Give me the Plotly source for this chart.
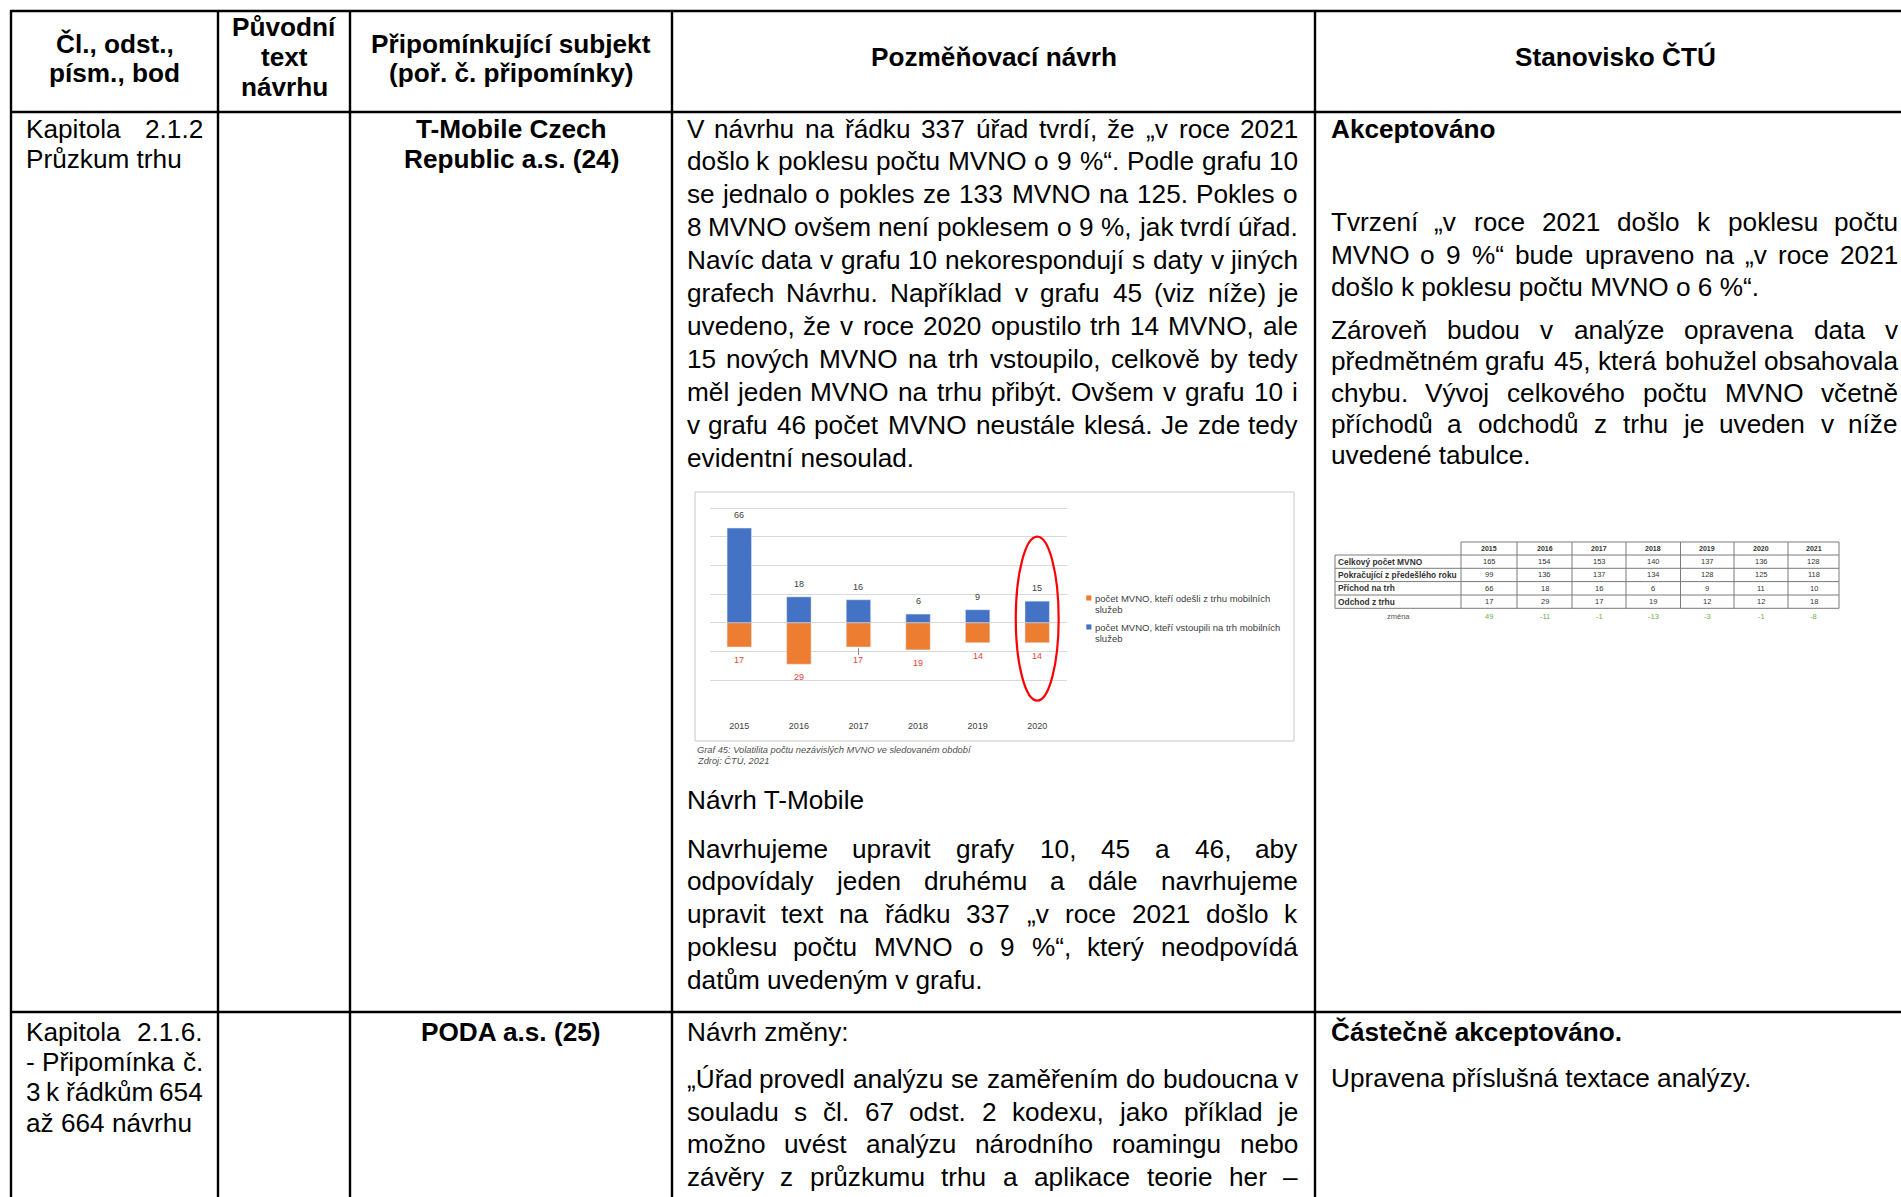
import plotly.graph_objects as go

W, H = 1901, 1197

# ---------------- data: embedded chart (Graf 45) ----------------
YEARS = ["2015", "2016", "2017", "2018", "2019", "2020"]
ENTERED = [66, 18, 16, 6, 9, 15]
LEFT = [17, 29, 17, 19, 14, 14]
NAME_LEFT = ["počet MVNO, kteří odešli z trhu mobilních", "služeb"]
NAME_ENTER = ["počet MVNO, kteří vstoupili na trh mobilních", "služeb"]
GRID_VALS = [-40, -20, 0, 20, 40, 60, 80]
CHART_CAPTION = ["Graf 45: Volatilita počtu nezávislých MVNO ve sledovaném období",
                 "Zdroj: ČTÚ, 2021"]

# ---------------- data: embedded table ----------------
TBL_YEARS = ["2015", "2016", "2017", "2018", "2019", "2020", "2021"]
TBL_ROWS = ["Celkový počet MVNO", "Pokračující z předešlého roku", "Příchod na trh", "Odchod z trhu"]
TBL_TOTAL = [165, 154, 153, 140, 137, 136, 128]
TBL_CONT = [99, 136, 137, 134, 128, 125, 118]
TBL_IN = [66, 18, 16, 6, 9, 11, 10]
TBL_OUT = [17, 29, 17, 19, 12, 12, 18]
TBL_CHANGE_LABEL = "změna"
TBL_CHANGE = [49, -11, -1, -13, -3, -1, -8]

# ---------------- document text ----------------
HEADERS = [["Čl., odst.,", "písm., bod"], ["Původní", "text", "návrhu"],
           ["Připomínkující subjekt", "(poř. č. připomínky)"], ["Pozměňovací návrh"], ["Stanovisko ČTÚ"]]
R1_C1 = ["Kapitola  2.1.2", "Průzkum trhu"]
R1_C3 = ["T-Mobile Czech", "Republic a.s. (24)"]
R1_C4_P1 = [
    "V návrhu na řádku 337 úřad tvrdí, že „v roce 2021",
    "došlo k poklesu počtu MVNO o 9 %“. Podle grafu 10",
    "se jednalo o pokles ze 133 MVNO na 125. Pokles o",
    "8 MVNO ovšem není poklesem o 9 %, jak tvrdí úřad.",
    "Navíc data v grafu 10 nekorespondují s daty v jiných",
    "grafech Návrhu. Například v grafu 45 (viz níže) je",
    "uvedeno, že v roce 2020 opustilo trh 14 MVNO, ale",
    "15 nových MVNO na trh vstoupilo, celkově by tedy",
    "měl jeden MVNO na trhu přibýt. Ovšem v grafu 10 i",
    "v grafu 46 počet MVNO neustále klesá. Je zde tedy",
    "evidentní nesoulad.",
]
R1_C4_H2 = "Návrh T-Mobile"
R1_C4_P2 = [
    "Navrhujeme upravit grafy 10, 45 a 46, aby",
    "odpovídaly jeden druhému a dále navrhujeme",
    "upravit text na řádku 337 „v roce 2021 došlo k",
    "poklesu počtu MVNO o 9 %“, který neodpovídá",
    "datům uvedeným v grafu.",
]
R1_C5_H = "Akceptováno"
R1_C5_P1 = [
    "Tvrzení „v roce 2021 došlo k poklesu počtu",
    "MVNO o 9 %“ bude upraveno na „v roce 2021",
    "došlo k poklesu počtu MVNO o 6 %“.",
]
R1_C5_P2 = [
    "Zároveň budou v analýze opravena data v",
    "předmětném grafu 45, která bohužel obsahovala",
    "chybu. Vývoj celkového počtu MVNO včetně",
    "příchodů a odchodů z trhu je uveden v níže",
    "uvedené tabulce.",
]
R2_C1 = ["Kapitola  2.1.6.", "- Připomínka č.", "3 k řádkům 654", "až 664 návrhu"]
R2_C3 = "PODA a.s. (25)"
R2_C4_H = "Návrh změny:"
R2_C4_P = [
    "„Úřad provedl analýzu se zaměřením do budoucna v",
    "souladu s čl. 67 odst. 2 kodexu, jako příklad je",
    "možno uvést analýzu národního roamingu nebo",
    "závěry z průzkumu trhu a aplikace teorie her –",
]
R2_C5_H = "Částečně akceptováno."
R2_C5_P = "Upravena příslušná textace analýzy."

# ---------------- styling ----------------
FONT = "Liberation Sans, Arial, sans-serif"
FS = 26.2
BLUE = "#4472C4"
ORANGE = "#ED7D31"
RED_LBL = "#E8443A"
GRIDC = "#D9D9D9"

# Arial / Liberation Sans advance widths (per 1000 em)
REG = {' ': 278, ',': 278, '.': 278, ':': 278, ';': 278, '(': 333, ')': 333, '-': 333,
       '%': 889, '„': 333, '“': 333, '–': 556, '"': 355}
for c in "0123456789":
    REG[c] = 556
for c, w in zip("aábcčdeéěfghiíjklmnňoópqrřsštuúůvwxyýzž",
                [556, 556, 556, 500, 500, 556, 556, 556, 556, 278, 556, 556, 222, 278, 222, 500, 222,
                 833, 556, 556, 556, 556, 556, 556, 333, 333, 500, 500, 278, 556, 556, 556, 500,
                 722, 500, 500, 500, 500, 500]):
    REG[c] = w
for c, w in zip("ABCČDEFGHIJKLMNOPQRŘSŠTUÚVWXYZŽ",
                [667, 667, 722, 722, 722, 667, 611, 778, 722, 278, 500, 667, 556, 833, 722, 778,
                 667, 778, 722, 722, 667, 667, 611, 722, 722, 667, 944, 667, 667, 611, 611]):
    REG[c] = w


def text_w(s, size=FS):
    return sum(REG.get(ch, 556) for ch in s) / 1000.0 * size


ANN = []


def ann(x, y, text, size=FS, anchor="left", bold=False, italic=False, color="black"):
    t = text
    if bold:
        t = "<b>" + t + "</b>"
    if italic:
        t = "<i>" + t + "</i>"
    ANN.append(dict(x=x, y=y, xref="x", yref="y", text=t, showarrow=False,
                    xanchor=anchor, yanchor="middle", borderpad=0,
                    font=dict(size=size, color=color, family=FONT)))


def put_line(line, y, L, R, justify=True, size=FS):
    words = line.split()
    if not justify or len(words) < 2:
        ann(L, y, line, size=size)
        return
    ws = [text_w(w, size) for w in words]
    gap = (R - L - sum(ws)) / (len(words) - 1)
    x = L
    for i, (w, wd) in enumerate(zip(words, ws)):
        if i == 0:
            ann(L, y, w, size=size, anchor="left")
        elif i == len(words) - 1:
            ann(R, y, w, size=size, anchor="right")
        else:
            ann(x + wd / 2.0, y, w, size=size, anchor="center")
        x += wd + gap


def put_par(lines, y0, step, L, R, last_left=True):
    for k, ln in enumerate(lines):
        just = not (last_left and k == len(lines) - 1)
        put_line(ln, y0 + k * step, L, R, justify=just)


# ---------------- layout geometry ----------------
COLS = [11, 218, 350, 672, 1315]
TOP, HB, R1B = 11, 112, 1012
LS = 32.7
LS1 = 30.3

shapes = []
LINE = dict(color="black", width=2.4)
for yy in (TOP, HB, R1B):
    shapes.append(dict(type="line", xref="x", yref="y", x0=COLS[0] - 1, x1=W + 5, y0=yy, y1=yy, line=LINE))
for xx in COLS:
    shapes.append(dict(type="line", xref="x", yref="y", x0=xx, x1=xx, y0=TOP - 1, y1=H + 5, line=LINE))

# headers
centers = [(COLS[0] + COLS[1]) / 2, (COLS[1] + COLS[2]) / 2, (COLS[2] + COLS[3]) / 2,
           (COLS[3] + COLS[4]) / 2, 1615]
hy = {1: [57], 2: [43.6, 72.7], 3: [26.7, 57, 87.3]}
for cx, hl in zip(centers, HEADERS):
    for t, yy in zip(hl, hy[len(hl)]):
        ann(cx, yy, t, anchor="center", bold=True)

# row 1
put_par(R1_C1, 128.5, LS1, 25, 204)
for k, t in enumerate(R1_C3):
    ann(centers[2], 128.5 + k * LS1, t, anchor="center", bold=True)
C4L, C4R = 686, 1298.5
put_par(R1_C4_P1, 128.5, 32.9, C4L, C4R)
ann(C4L, 800, R1_C4_H2)
put_par(R1_C4_P2, 848.7, LS, C4L, C4R)
C5L, C5R = 1330, 1899
ann(C5L, 128.5, R1_C5_H, bold=True)
put_par(R1_C5_P1, 222, LS, C5L, C5R)
put_par(R1_C5_P2, 330, 31.3, C5L, C5R)

# row 2
put_par(R2_C1, 1031.8, LS1, 25, 204)
ann(centers[2], 1031.8, R2_C3, anchor="center", bold=True)
ann(C4L, 1031.8, R2_C4_H)
put_par(R2_C4_P, 1079, LS, C4L, C4R, last_left=False)
ann(C5L, 1031.8, R2_C5_H, bold=True)
ann(C5L, 1077.8, R2_C5_P)

# ---------------- embedded chart ----------------
shapes.append(dict(type="rect", xref="x", yref="y", x0=695, x1=1294, y0=492, y1=741,
                   line=dict(color="#C8C8C8", width=1), layer="below"))
# plot area: gridline 80 at y=508px, -40 at y=680px
px_per_unit = (680 - 508) / 120.0
ytop_px, ybot_px = 500, 719
yr_top = 80 + (508 - ytop_px) / px_per_unit
yr_bot = -40 - (ybot_px - 680) / px_per_unit

fig = go.Figure()
fig.add_trace(go.Scatter(x=[0], y=[0], mode="markers", marker=dict(opacity=0), hoverinfo="skip",
                         showlegend=False, xaxis="x", yaxis="y"))
fig.add_trace(go.Bar(x=YEARS, y=[-v for v in LEFT], name=" ".join(NAME_LEFT), marker_color=ORANGE,
                     width=0.41, xaxis="x2", yaxis="y2", showlegend=False))
fig.add_trace(go.Bar(x=YEARS, y=ENTERED, name=" ".join(NAME_ENTER), marker_color=BLUE,
                     width=0.41, xaxis="x2", yaxis="y2", showlegend=False))

# value labels (on the chart's own axes; category index positions)
for i, v in enumerate(ENTERED):
    ANN.append(dict(x=i, y=v, xref="x2", yref="y2", text=str(v), showarrow=False,
                    yanchor="middle", yshift=13, font=dict(size=9, color="#404040", family=FONT)))
for i, v in enumerate(LEFT):
    ANN.append(dict(x=i, y=-v, xref="x2", yref="y2", text=str(v), showarrow=False,
                    yanchor="middle", yshift=-13, font=dict(size=9, color=RED_LBL, family=FONT)))

# small leader tick under the 2017 outflow bar
shapes.append(dict(type="line", xref="x2", yref="y2", x0=2, x1=2, y0=-LEFT[2] - 0.6, y1=-LEFT[2] - 5.5,
                   line=dict(color="#8C8C8C", width=1)))

# red ellipse around 2020
shapes.append(dict(type="circle", xref="x2", yref="y2", x0=4.64, x1=5.36, y0=-54.4, y1=60,
                   line=dict(color="#FF0000", width=2.2)))

# legend (manual, small squares)
for names, col, y0 in ((NAME_LEFT, ORANGE, 598), (NAME_ENTER, BLUE, 627)):
    shapes.append(dict(type="rect", xref="x", yref="y", x0=1086.3, x1=1091.4, y0=y0 - 2.6, y1=y0 + 2.5,
                       fillcolor=col, line=dict(width=0)))
    for k, t in enumerate(names):
        ann(1093.5, y0 + k * 11.5, t, size=9.5, color="#404040")

for k, t in enumerate(CHART_CAPTION):
    ann(695.5, 750 + k * 11, t, size=9.3, italic=True, color="#505050")

# ---------------- embedded table ----------------
XE = [1461, 1517, 1572, 1626, 1680.5, 1734, 1788, 1839]
TL = 1335
YE = [542, 555, 568.3, 581.6, 595, 608.3]
TC = "#7A7A7A"
TLINE = dict(color=TC, width=1)
shapes.append(dict(type="line", xref="x", yref="y", x0=XE[0], x1=XE[-1], y0=YE[0], y1=YE[0], line=TLINE))
for yy in YE[1:]:
    shapes.append(dict(type="line", xref="x", yref="y", x0=TL, x1=XE[-1], y0=yy, y1=yy, line=TLINE))
shapes.append(dict(type="line", xref="x", yref="y", x0=TL, x1=TL, y0=YE[1], y1=YE[-1], line=TLINE))
for xx in XE:
    shapes.append(dict(type="line", xref="x", yref="y", x0=xx, x1=xx, y0=YE[0], y1=YE[-1], line=TLINE))

xc = [(XE[i] + XE[i + 1]) / 2 for i in range(len(TBL_YEARS))]
for x_, yv in zip(xc, TBL_YEARS):
    ann(x_, (YE[0] + YE[1]) / 2, yv, size=7, anchor="center", bold=True, color="#333333")
for r, (lab, vals) in enumerate(zip(TBL_ROWS, [TBL_TOTAL, TBL_CONT, TBL_IN, TBL_OUT])):
    yy = (YE[r + 1] + YE[r + 2]) / 2
    ann(TL + 2, yy, lab, size=8.4, bold=True, color="#333333")
    for x_, v in zip(xc, vals):
        ann(x_, yy, str(v), size=7.5, anchor="center", color="#333333")
ann((TL + XE[0]) / 2, 616, TBL_CHANGE_LABEL, size=7.5, anchor="center", color="#555555")
for x_, v in zip(xc, TBL_CHANGE):
    ann(x_, 616, str(v), size=7.5, anchor="center", color="#6AB04C")

fig.update_layout(
    width=W, height=H, margin=dict(l=0, r=0, t=0, b=0),
    paper_bgcolor="white", plot_bgcolor="rgba(0,0,0,0)",
    font=dict(family=FONT, color="black"),
    barmode="relative", showlegend=False,
    xaxis=dict(range=[0, W], domain=[0, 1], visible=False, fixedrange=True, autorange=False),
    yaxis=dict(range=[H, 0], domain=[0, 1], visible=False, fixedrange=True, autorange=False),
    xaxis2=dict(domain=[709.5 / W, 1067 / W], anchor="y2", type="category", showgrid=False,
                range=[-0.5, len(YEARS) - 0.5], autorange=False,
                showline=False, ticks="", zeroline=False,
                tickfont=dict(size=9, color="#404040", family=FONT)),
    yaxis2=dict(domain=[1 - ybot_px / H, 1 - ytop_px / H], anchor="x2", range=[yr_bot, yr_top],
                autorange=False,
                tickvals=GRID_VALS, showticklabels=False, gridcolor=GRIDC, gridwidth=1,
                zeroline=False, showline=False, ticks=""),
    shapes=shapes, annotations=ANN,
)

fig.write_html("out.html", config={"displayModeBar": False},
               post_script="document.body.style.margin='0px';document.body.style.overflow='hidden';")
